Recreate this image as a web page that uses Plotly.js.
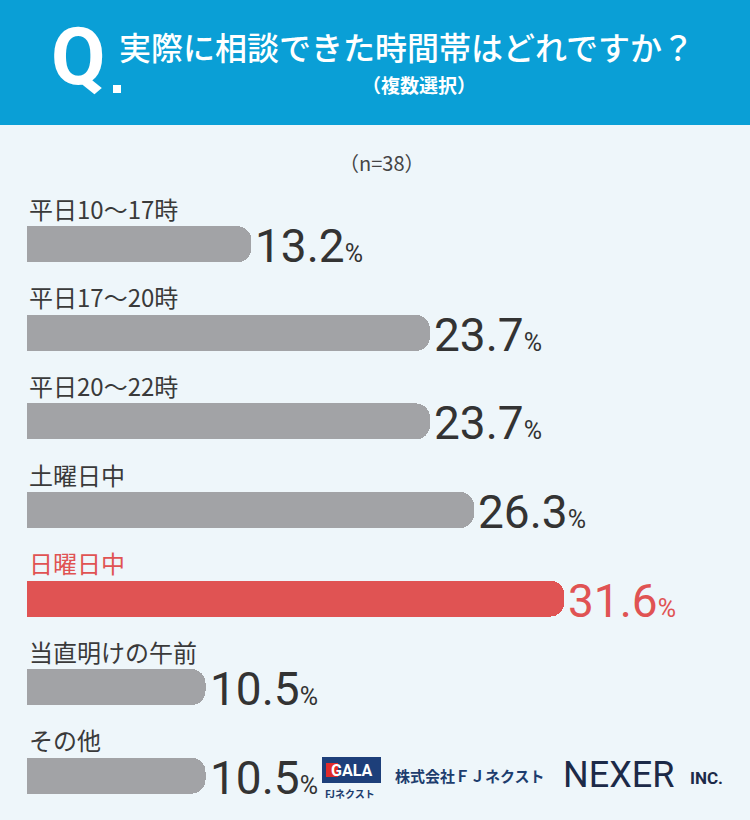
<!DOCTYPE html>
<html><head><meta charset="utf-8">
<script src="https://cdn.plot.ly/plotly-3.0.1.min.js"></script>
<style>html,body{margin:0;padding:0;background:#eef6fa;}#chart{width:750px;height:820px;}</style>
</head><body><div id="chart"></div>
<script>
const categories = ["平日10～17時","平日17～20時","平日20～22時","土曜日中","日曜日中","当直明けの午前","その他"];
const values = [13.2, 23.7, 23.7, 26.3, 31.6, 10.5, 10.5];
const highlight = "日曜日中";
const titleText = "実際に相談できた時間帯はどれですか？";
const subtitleText = "（複数選択）";
const sampleText = "（n=38）";

const GRAY = "#a2a3a6", RED = "#e05353", DARK = "#333333";
const JP = "Noto Sans CJK JP, Noto Sans, sans-serif";
const NUM = "Roboto, Noto Sans, sans-serif";

const colors = categories.map(c => c === highlight ? RED : GRAY);

const trace = {
  type: "bar", orientation: "h",
  x: values, y: categories,
  width: 0.406,
  marker: {color: colors, cornerradius: 14},
  hoverinfo: "skip"
};

// paper coordinate helpers: plot area pixel 27..750 (x), 200..820 (y)
const L = 27, T = 200, W = 723, H = 620;
const px = p => (p - L) / W;
const py = p => (820 - p) / H;

const annotations = [];
categories.forEach((c, i) => {
  const col = c === highlight ? RED : "#3a3a3a";
  annotations.push({
    xref: "x", yref: "y", x: 0, y: c, xanchor: "left", yanchor: "middle",
    yshift: 36, showarrow: false, text: c,
    font: {family: JP, size: 24, color: col}
  });
  annotations.push({
    xref: "x", yref: "y", x: values[i], y: c, xanchor: "left", yanchor: "middle",
    xshift: 2, yshift: -2, showarrow: false,
    text: values[i].toFixed(1) + '<span style="font-size:25px">%</span>',
    font: {family: NUM, size: 46, color: c === highlight ? RED : DARK}
  });
});

// header texts
annotations.push({xref:"paper", yref:"paper", x: px(49), y: py(57), xanchor:"left", yanchor:"middle",
  showarrow:false, text:"Q", font:{family:NUM, size:79, color:"#ffffff", weight:700}});
annotations.push({xref:"paper", yref:"paper", x: px(117), y: py(46), xanchor:"left", yanchor:"middle",
  showarrow:false, text:titleText, font:{family:JP, size:32, color:"#ffffff", weight:500}});
annotations.push({xref:"paper", yref:"paper", x: px(419), y: py(84), xanchor:"center", yanchor:"middle",
  showarrow:false, text:subtitleText, font:{family:JP, size:19, color:"#ffffff", weight:700}});
annotations.push({xref:"paper", yref:"paper", x: px(382), y: py(162), xanchor:"center", yanchor:"middle",
  showarrow:false, text:sampleText, font:{family:JP, size:20, color:"#444444"}});

// logos
annotations.push({xref:"paper", yref:"paper", x: px(351), y: py(770), xanchor:"center", yanchor:"middle",
  showarrow:false, text:"<b>GALA</b>", font:{family:"Roboto, sans-serif", size:16, color:"#ffffff"}});
annotations.push({xref:"paper", yref:"paper", x: px(350), y: py(793), xanchor:"center", yanchor:"middle",
  showarrow:false, text:"<b>FJネクスト</b>", font:{family:JP, size:10, color:"#1d3d6e"}});
annotations.push({xref:"paper", yref:"paper", x: px(393), y: py(775), xanchor:"left", yanchor:"middle",
  showarrow:false, text:"<b>株式会社ＦＪネクスト</b>", font:{family:JP, size:15, color:"#1d3d6e"}});
annotations.push({xref:"paper", yref:"paper", x: px(561), y: py(775), xanchor:"left", yanchor:"middle",
  showarrow:false, text:"NEXER", font:{family:NUM, size:36, color:"#1c2a48"}});
annotations.push({xref:"paper", yref:"paper", x: px(688), y: py(778), xanchor:"left", yanchor:"middle",
  showarrow:false, text:"<b>INC.</b>", font:{family:NUM, size:17, color:"#1c2a48"}});

const shapes = [
  {type:"rect", xref:"paper", yref:"paper", x0: px(0), x1: px(750), y0: py(125), y1: py(0),
   fillcolor:"#0a9fd6", line:{width:0}, layer:"below"},
  {type:"rect", xref:"paper", yref:"paper", x0: px(113), x1: px(121), y0: py(93), y1: py(85),
   fillcolor:"#ffffff", line:{width:0}},
  {type:"rect", xref:"paper", yref:"paper", x0: px(322), x1: px(381), y0: py(783), y1: py(757),
   fillcolor:"#1d3f7a", line:{width:0}},
  {type:"rect", xref:"paper", yref:"paper", x0: px(326), x1: px(338), y0: py(777), y1: py(763),
   fillcolor:"#e02a2a", line:{width:0}}
];

const layout = {
  width: 750, height: 820,
  margin: {l: L, r: 0, t: T, b: 0, pad: 0},
  paper_bgcolor: "#eef6fa", plot_bgcolor: "rgba(0,0,0,0)",
  showlegend: false,
  xaxis: {range: [0, W / 17.0], visible: false, fixedrange: true},
  yaxis: {type: "category", range: [6.5, -0.5], visible: false, fixedrange: true},
  annotations: annotations, shapes: shapes,
  bargap: 0
};

Plotly.newPlot("chart", [trace], layout, {displayModeBar: false, staticPlot: true});
</script></body></html>
